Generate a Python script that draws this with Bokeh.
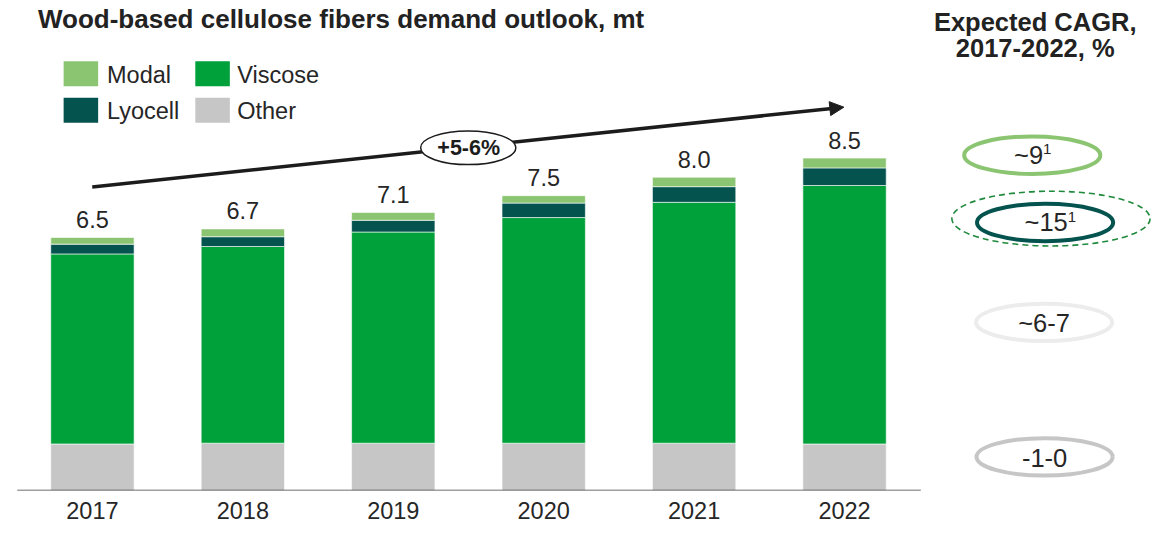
from bokeh.plotting import figure
from bokeh.models import Range1d, LinearAxis, FixedTicker, Arrow, NormalHead
from bokeh.core.properties import value
from bokeh.embed import file_html
from bokeh.resources import INLINE

# ---------------- data ----------------
years = ["2017", "2018", "2019", "2020", "2021", "2022"]
other = [1.19, 1.21, 1.21, 1.21, 1.21, 1.19]
viscose = [4.86, 5.03, 5.40, 5.77, 6.16, 6.61]
lyocell = [0.25, 0.25, 0.30, 0.37, 0.40, 0.45]
modal = [0.17, 0.20, 0.20, 0.19, 0.24, 0.25]
series_names = ["Other", "Viscose", "Lyocell", "Modal"]
growth_label = "+5-6%"
cagr_main = ["~9", "~15", "~6-7", "-1-0"]
cagr_sup = ["1", "1", "", ""]
title_text = "Wood-based cellulose fibers demand outlook, mt"
cagr_title = ["Expected CAGR,", "2017-2022, %"]

# ---------------- styles ----------------
C_OTHER = "#c6c6c6"
C_VISC = "#00a03a"
C_LYO = "#05534f"
C_MODAL = "#8cc572"
TXT = "#262626"
FONT = value("Liberation Sans")

# reference-pixel -> data helpers
X0, DX = 93.2, 152.5
Y0, DY = 510.0, 40.7


def px(xp):
    return (xp - X0) / DX


def py(yp):
    return (Y0 - yp) / DY


p = figure(frame_width=1158, frame_height=490,
           x_range=Range1d(px(0), px(1174)), y_range=Range1d(py(510), py(0)),
           output_backend="svg", toolbar_location=None,
           x_axis_location=None, y_axis_location=None, min_border=0,
           min_border_bottom=40)
p.outline_line_color = None
p.background_fill_color = "white"
p.border_fill_color = "white"
p.xgrid.grid_line_color = None
p.ygrid.grid_line_color = None
p.grid.visible = False

xs = list(range(len(years)))
data = dict(x=xs, Other=other, Viscose=viscose, Lyocell=lyocell, Modal=modal)
p.vbar_stack(series_names, x="x", width=84.5 / DX, source=data,
             fill_color=[C_OTHER, C_VISC, C_LYO, C_MODAL],
             line_color="white", line_width=0.6)

totals = [o + v + l + m for o, v, l, m in zip(other, viscose, lyocell, modal)]
labels = ["%.1f" % t for t in totals]
p.text(x=xs, y=totals, text=labels, text_align="center", text_baseline="middle",
       y_offset=-18, text_font=FONT, text_font_size="23.5px", text_color=TXT)

# baseline
p.segment(x0=[px(17)], y0=[0], x1=[px(933)], y1=[0], line_color="#404040", line_width=1.3)

# x axis labels
ax = LinearAxis(ticker=FixedTicker(ticks=xs),
                major_label_overrides={i: y for i, y in enumerate(years)})
ax.axis_line_color = None
ax.major_tick_line_color = None
ax.minor_tick_line_color = None
ax.major_label_standoff = 5
ax.major_label_text_font_size = "23.5px"
ax.major_label_text_font = "Liberation Sans"
ax.major_label_text_color = TXT
p.add_layout(ax, "below")

# title
p.text(x=[px(38)], y=[py(19.5)], text=[title_text], text_align="left",
       text_baseline="middle", text_font=FONT, text_font_style="bold",
       text_font_size="26px", text_color="#222222")

# legend (manual)
leg_x = [px(81.5), px(215), px(81.5), px(215)]
leg_y = [py(76.3), py(76.3), py(114.2), py(114.2)]
leg_names = ["Modal", "Viscose", "Lyocell", "Other"]
leg_cols = [C_MODAL, C_VISC, C_LYO, C_OTHER]
p.rect(x=leg_x, y=leg_y, width=35 / DX, height=26 / DY, fill_color=leg_cols, line_color=None)
p.text(x=[px(108), px(240), px(108), px(240)], y=[py(77.5), py(77.5), py(114.5), py(114.5)],
       text=leg_names, text_align="left", text_baseline="middle", text_font=FONT,
       text_font_size="23.5px", text_color=TXT)

# growth arrow
ac = "#1c1c1c"
arrow = Arrow(end=NormalHead(size=14, fill_color=ac, line_color=ac, line_width=1),
              x_start=px(93), y_start=py(194), x_end=px(855), y_end=py(111),
              line_width=3.5, line_color=ac, level="underlay")
p.add_layout(arrow)
p.ellipse(x=[px(474.2)], y=[py(153.3)], width=96.5 / DX, height=35 / DY,
          fill_color="white", line_color="#1c1c1c", line_width=1.5)
p.text(x=[px(474.7)], y=[py(153)], text=[growth_label], text_align="center",
       text_baseline="middle", text_font=FONT, text_font_style="bold",
       text_font_size="21.5px", text_color="#1c1c1c")

# right panel: CAGR
p.text(x=[px(1049), px(1049)], y=[py(22.8), py(49.5)], text=cagr_title,
       text_align="center", text_baseline="middle", text_font=FONT,
       text_font_style="bold", text_font_size="25.5px", text_color="#222222")

# dashed outer ellipse around Lyocell
p.ellipse(x=[px(1065)], y=[py(227)], width=201 / DX, height=57 / DY,
          fill_color=None, line_color="#1f8a3c", line_width=1.6, line_dash="6 4")
ell_x = [px(1046), px(1059), px(1058), px(1058.5)]
ell_y = [py(161), py(231), py(335), py(475)]
ell_cols = [C_MODAL, C_LYO, "#ececec", C_OTHER]
p.ellipse(x=ell_x, y=ell_y, width=138 / DX, height=39 / DY, fill_color=None,
          line_color=ell_cols, line_width=4)

main_right = [px(1057), px(1082), None, None]
for i, (m, s) in enumerate(zip(cagr_main, cagr_sup)):
    if s:
        p.text(x=[main_right[i]], y=[ell_y[i]], text=[m], text_align="right",
               text_baseline="middle", text_font=FONT, text_font_size="25.5px",
               text_color=TXT)
        p.text(x=[main_right[i]], y=[ell_y[i] + 6 / DY], text=[s],
               text_align="left", text_baseline="middle", text_font=FONT,
               text_font_size="15px", text_color=TXT)
    else:
        p.text(x=[ell_x[i]], y=[ell_y[i] - 0.7 / DY], text=[m], text_align="center",
               text_baseline="middle", text_font=FONT, text_font_size="25.5px",
               text_color=TXT)

open("out.html", "w").write(file_html(p, INLINE))
